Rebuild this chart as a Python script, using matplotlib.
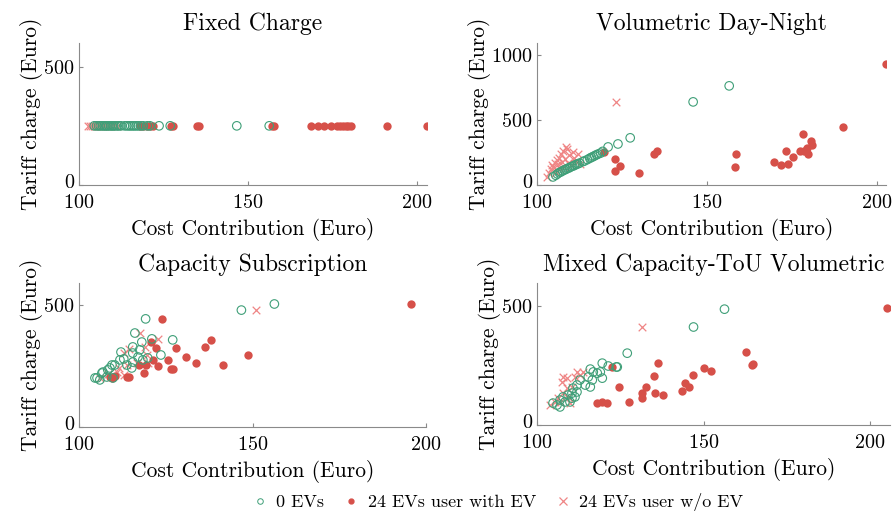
import matplotlib
matplotlib.use("Agg")
import matplotlib.pyplot as plt
import matplotlib.transforms as mtransforms
from matplotlib.lines import Line2D

plt.rcParams["font.family"] = ["cmr10", "DejaVu Serif"]
plt.rcParams["mathtext.fontset"] = "cm"
plt.rcParams["axes.formatter.use_mathtext"] = True

green = "#3f9f78"
red = "#d65049"
pink = "#ef8585"

titles = ["Fixed Charge", "Volumetric Day-Night", "Capacity Subscription", "Mixed Capacity-ToU Volumetric"]
series_labels = ["0 EVs", "24 EVs user with EV", "24 EVs user w/o EV"]

# --- Fixed Charge (all tariffs equal) ---
fc_green_x = [104.5, 105.2, 105.8, 106.3, 106.9, 107.4, 107.9, 108.3, 108.8, 109.3, 109.8, 110.2,
              110.7, 111.3, 111.8, 112.4, 113.5, 114.2, 114.8, 115.3, 115.9, 116.4, 117.0, 117.6,
              118.3, 119.0, 120.2, 121.0, 123.7, 127.0, 146.7, 156.3]
fc_green_y = [250] * len(fc_green_x)
fc_red_x = [118.0, 119.0, 120.0, 121.0, 122.0, 127.2, 127.8, 134.9, 135.5, 157.0, 157.7, 168.6,
            170.8, 172.5, 174.5, 176.3, 177.2, 178.2, 179.0, 179.7, 180.5, 191.2, 203.0]
fc_red_y = [250] * len(fc_red_x)
fc_x_x = [102.8, 103.3, 103.8, 104.3, 104.8, 105.3, 105.8, 106.4, 107.0, 107.6, 108.2, 108.9,
          109.6, 110.4, 111.2]
fc_x_y = [250] * len(fc_x_x)

# --- Volumetric Day-Night ---
vd_green_x = [104.7, 105.5, 106.0, 106.5, 107.0, 107.5, 108.0, 108.5, 109.0, 109.5, 110.0, 110.5,
              111.0, 111.5, 112.0, 112.5, 113.5, 114.0, 114.8, 115.5, 116.0, 116.5, 117.0, 117.5,
              118.0, 118.7, 119.3, 120.9, 123.8, 127.4, 145.9, 156.5]
vd_green_y = [62, 75, 85, 95, 100, 108, 115, 120, 128, 132, 140, 145, 150, 158, 162, 168, 180, 185,
              195, 205, 212, 218, 225, 232, 238, 245, 258, 292, 315, 362, 638, 761]
vd_red_x = [119.7, 123.0, 123.0, 124.4, 130.0, 134.4, 135.3, 158.2, 158.5, 169.7, 171.8, 173.2,
            173.8, 175.3, 177.3, 178.2, 178.5, 179.4, 179.7, 180.6, 180.9, 190.0, 202.6]
vd_red_y = [254, 200, 108, 146, 92, 238, 262, 138, 238, 177, 154, 262, 161, 215, 262, 392, 262,
            285, 238, 338, 308, 446, 930]
vd_x_x = [103.0, 103.5, 104.0, 104.3, 104.8, 105.2, 105.5, 105.8, 106.2, 106.5, 106.8, 107.0,
          107.3, 107.7, 108.0, 108.3, 108.5, 108.8, 109.2, 109.5, 110.0, 110.5, 111.0, 111.5,
          112.0, 112.5, 123.2]
vd_x_y = [60, 90, 120, 150, 135, 170, 100, 190, 160, 210, 120, 240, 180, 260, 140, 200, 290, 275,
          170, 230, 150, 250, 210, 180, 240, 160, 638]

# --- Capacity Subscription ---
cs_green_x = [119.2, 116.1, 146.8, 156.3, 127.0, 123.6, 121.0, 118.1, 115.5, 112.1, 112.9, 115.5,
              117.0, 118.4, 115.5, 110.3, 109.5, 111.8, 106.9, 106.6, 108.3, 108.9, 104.6, 106.0,
              109.8, 108.0, 115.2, 117.5, 105.2, 113.8, 119.8]
cs_green_y = [443, 385, 479, 504, 357, 295, 361, 348, 328, 307, 279, 303, 287, 275, 266, 254, 254,
              275, 225, 221, 234, 242, 201, 193, 201, 205, 242, 316, 201, 254, 283]
cs_red_x = [123.9, 120.7, 122.1, 127.9, 137.9, 136.2, 130.7, 133.6, 125.6, 121.3, 122.8, 119.2,
            117.2, 118.7, 126.4, 127.0, 141.4, 148.8, 195.7, 113.8, 114.4, 110.3, 109.5, 108.8]
cs_red_y = [443, 348, 324, 324, 357, 328, 287, 262, 275, 275, 250, 254, 254, 221, 238, 238, 254,
            295, 504, 205, 205, 209, 201, 205]
cs_x_x = [117.5, 122.7, 150.9, 112.9, 113.8, 119.0, 119.5, 112.9, 110.9, 108.3, 106.0, 116.7,
          119.8, 114.5, 111.5]
cs_x_y = [385, 361, 479, 303, 254, 328, 295, 213, 225, 217, 201, 262, 262, 320, 240]

# --- Mixed Capacity-ToU Volumetric ---
mx_green_x = [156.3, 147.0, 127.1, 124.1, 119.6, 123.8, 116.0, 116.9, 118.1, 119.6, 115.4, 116.6,
              112.9, 112.0, 110.8, 116.0, 114.5, 112.0, 110.5, 109.3, 107.8, 111.4, 106.9, 108.4,
              106.0, 104.8, 109.9, 106.9, 110.5, 119.0, 121.4]
mx_green_y = [487, 412, 302, 244, 260, 244, 235, 223, 218, 197, 202, 189, 189, 168, 155, 160, 168,
              139, 134, 126, 118, 118, 105, 97, 84, 92, 97, 76, 113, 223, 248]
mx_red_x = [205.1, 162.9, 164.5, 165.0, 150.0, 152.1, 146.7, 144.3, 145.5, 143.4, 136.4, 135.2,
            132.8, 131.6, 131.6, 135.5, 137.9, 122.6, 124.7, 127.7, 118.1, 119.6, 121.1]
mx_red_y = [491, 307, 252, 256, 239, 227, 210, 176, 160, 143, 260, 206, 160, 134, 113, 134, 126,
            244, 160, 97, 92, 97, 92]
mx_x_x = [131.6, 107.8, 109.0, 112.0, 111.4, 112.9, 107.5, 109.0, 107.8, 106.3, 106.9, 103.9,
          105.4, 109.9, 109.3, 113.9, 110.5]
mx_x_y = [412, 202, 197, 223, 202, 210, 181, 155, 134, 113, 97, 84, 97, 92, 118, 223, 160]

panels = [
    (fc_green_x, fc_green_y, fc_red_x, fc_red_y, fc_x_x, fc_x_y),
    (vd_green_x, vd_green_y, vd_red_x, vd_red_y, vd_x_x, vd_x_y),
    (cs_green_x, cs_green_y, cs_red_x, cs_red_y, cs_x_x, cs_x_y),
    (mx_green_x, mx_green_y, mx_red_x, mx_red_y, mx_x_x, mx_x_y),
]

W, H = 894, 524
# left, right, top, bottom in pixels
boxes = [(79, 427, 43, 185), (537, 886, 43, 185), (79, 426, 283, 427), (537, 890, 283, 425)]
xlims = [(100, 203), (100, 202.6), (100, 200), (100, 206)]
ylims = [(0, 600), (0, 1090), (0, 590), (0, 597)]
yticks = [[0, 500], [0, 500, 1000], [0, 500], [0, 500]]

fig = plt.figure(figsize=(W / 100, H / 100), dpi=100)

for i, (gx, gy, rx, ry, xx, xy) in enumerate(panels):
    l, r, t, b = boxes[i]
    ax = fig.add_axes([l / W, 1 - b / H, (r - l) / W, (b - t) / H])
    ax.scatter(gx, gy, s=38, facecolors="none", edgecolors=green, linewidths=0.8, zorder=3)
    ax.scatter(rx, ry, s=36, color=red, linewidths=0, zorder=2)
    ax.scatter(xx, xy, s=30, marker="x", color=pink, linewidths=0.9, zorder=1)
    ax.set_xlim(*xlims[i])
    ax.set_ylim(*ylims[i])
    ax.set_xticks([100, 150, 200])
    ax.set_yticks(yticks[i])
    ax.set_title(titles[i], fontsize=17, pad=9)
    ax.set_xlabel("Cost Contribution (Euro)", fontsize=15.5, labelpad=4)
    ax.set_ylabel("Tariff charge (Euro)", fontsize=15.5, labelpad=0)
    for s in ["top", "right"]:
        ax.spines[s].set_visible(False)
    for s in ["left", "bottom"]:
        ax.spines[s].set_color("#8a8a8a")
        ax.spines[s].set_linewidth(0.8)
    ax.tick_params(direction="in", length=3, color="#8a8a8a", labelsize=14.5)
    ax.tick_params(axis="x", pad=6.5)
    ax.tick_params(axis="y", pad=3)
    # nudge the "0" label up a little so it clears the "100" below it
    zero_lab = ax.yaxis.get_major_ticks()[0].label1
    zero_lab.set_transform(zero_lab.get_transform()
                           + mtransforms.ScaledTranslation(0, 3 / 72, fig.dpi_scale_trans))

handles = [
    Line2D([], [], linestyle="none", marker="o", markersize=4, markerfacecolor="none",
           markeredgecolor=green, markeredgewidth=0.7),
    Line2D([], [], linestyle="none", marker="o", markersize=3.5, color=red),
    Line2D([], [], linestyle="none", marker="x", markersize=6, color=pink, markeredgewidth=0.9),
]
fig.legend(handles, series_labels, loc="center", bbox_to_anchor=(497 / W, 1 - 502 / H),
           ncol=3, frameon=False, fontsize=13, handletextpad=0.4, columnspacing=1.0,
           handlelength=1.0)

fig.savefig("out.png", dpi=100)
